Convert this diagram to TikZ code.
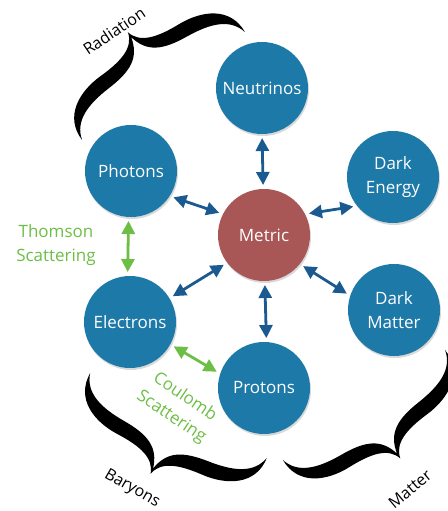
\documentclass[tikz,border=0pt]{standalone}
\usepackage{fontspec}
\setmainfont{Open Sans}
\usetikzlibrary{arrows.meta,shadows}
\definecolor{nodeblue}{HTML}{1C79A8}
\definecolor{metricred}{HTML}{A85656}
\definecolor{arrowblue}{HTML}{1B5A91}
\definecolor{labgreen}{HTML}{6DBE45}
\newcommand{\mybracepath}{%
  \fill[black] (-1,0) .. controls (-1.02,0.30) and (-0.75,0.43) .. (-0.48,0.44)
    .. controls (-0.22,0.45) and (-0.04,0.50) .. (0,0.66)
    .. controls (0.04,0.50) and (0.22,0.45) .. (0.48,0.44)
    .. controls (0.75,0.43) and (1.02,0.30) .. (1,0)
    .. controls (0.95,0.20) and (0.75,0.27) .. (0.48,0.29)
    .. controls (0.20,0.31) and (0.05,0.38) .. (0,0.60)
    .. controls (-0.05,0.38) and (-0.20,0.31) .. (-0.48,0.29)
    .. controls (-0.75,0.27) and (-0.95,0.20) .. (-1,0) -- cycle;}
\tikzset{
  ball/.style={circle, minimum size=92pt, inner sep=0pt, outer sep=0pt, fill=nodeblue,
    text=white, align=center, font=\fontsize{17}{24}\selectfont,
    drop shadow={shadow xshift=1pt, shadow yshift=-2pt, opacity=0.3}},
  metricball/.style={ball, fill=metricred},
  darr/.style={{Triangle[length=13pt,width=13pt]}-{Triangle[length=13pt,width=13pt]},
    line width=2.8pt, draw=arrowblue, shorten <=4pt, shorten >=4pt},
  garr/.style={darr, draw=labgreen},
  greenlab/.style={text=labgreen, align=center, font=\fontsize{17}{24}\selectfont},
  bracelab/.style={text=black, font=\fontsize{16}{18}\selectfont}
}
\begin{document}
\begin{tikzpicture}[x=1pt,y=1pt]
\useasboundingbox (0,-511) rectangle (447,0);
% braces
\begin{scope}[shift={(163.5,-86)}, rotate=33.5, scale=97.7]\mybracepath\end{scope}
\begin{scope}[shift={(178.5,-415.5)}, rotate=154.4, scale=98]\mybracepath\end{scope}
\begin{scope}[shift={(364,-405)}, rotate=214.2, scale=98]\mybracepath\end{scope}
\node[bracelab, rotate=34] (radlab) at (114,-31) {Radiation};
\node[bracelab, rotate=-30] (barlab) at (132,-489) {Baryons};
\node[bracelab, rotate=40] (matlab) at (410,-489) {Matter};
% nodes
\node[ball] (neu) at (262,-88) {Neutrinos};
\node[ball] (pho) at (131,-171) {Photons};
\node[ball] (de) at (393,-177) {Dark\\Energy};
\node[metricball] (met) at (264,-235) {Metric};
\node[ball] (ele) at (130,-322) {Electrons};
\node[ball] (dm) at (394,-310) {Dark\\Matter};
\node[ball] (pro) at (264,-388) {Protons};
% arrows
\draw[darr] (neu.-90) -- (met.91);
\draw[darr] (pho.-33) -- (met.153);
\draw[darr] (de.219) -- (met.27);
\draw[darr] (dm.162) -- (met.-39);
\draw[darr] (pro.87) -- (met.-89);
\draw[darr] (ele.31) -- (met.217);
\draw[garr] (pho.-93) -- (ele.93);
\draw[garr] (ele.-29) -- (pro.162);
% green labels
\node[greenlab] (thom) at (56,-245) {Thomson\\Scattering};
\node[greenlab, rotate=-34] (coul) at (178,-407) {Coulomb\\Scattering};
\end{tikzpicture}
\end{document}
